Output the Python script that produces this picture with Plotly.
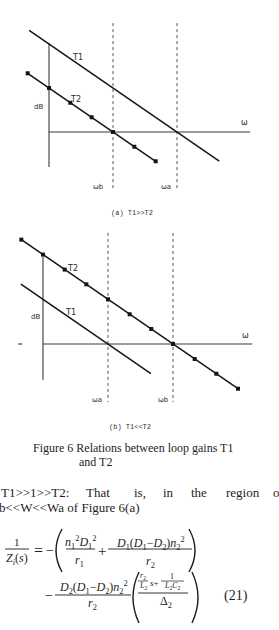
import plotly.graph_objects as go

W, H = 279, 630

# ---------------- data (log-frequency in decades, gain in dB) ----------------
# (a) T1 >> T2
a_t1_logw = [-0.31, 2.66]
a_t1_db = [46.2, -13.2]
a_t2_logw = [-1/3, 0, 1/3, 2/3, 1, 4/3, 5/3]
a_t2_db = [26.7, 20, 13.3, 6.7, 0, -6.7, -13.3]
a_wb, a_wa = 1.0, 2.0
a_vaxis_db = [40.5, -15.9]
a_haxis_logw = [0, 3.14]
a_guide_db = [49.5, -25.5]

# (b) T1 << T2
b_t2_logw = [-1/3, 0, 1/3, 2/3, 1, 4/3, 5/3, 2, 7/3, 8/3, 3]
b_t2_db = [46.7, 40, 33.3, 26.7, 20, 13.3, 6.7, 0, -6.7, -13.3, -20]
b_t1_logw = [-0.34, 1.66]
b_t1_db = [26.8, -13.2]
b_wa, b_wb = 1.0, 2.0
b_vaxis_db = [38.9, -16.1]
b_haxis_logw = [0, 3.22]
b_guide_db = [49.7, -26.0]

LINE = "#141414"
AXC = "#3a3a3a"
DOT = "#555555"
SANS = "DejaVu Sans"
SERIF = "Liberation Serif"

fig = go.Figure()

def add_panel(xa, ya, t1x, t1y, t2x, t2y, g1, g2, vax, hax, gdb):
    fig.add_trace(go.Scatter(x=[0, 0], y=vax, mode="lines", line=dict(color=AXC, width=1.1),
                             xaxis=xa, yaxis=ya, hoverinfo="skip"))
    fig.add_trace(go.Scatter(x=hax, y=[0, 0], mode="lines", line=dict(color=AXC, width=1.1),
                             xaxis=xa, yaxis=ya, hoverinfo="skip"))
    for g in (g1, g2):
        fig.add_trace(go.Scatter(x=[g, g], y=gdb, mode="lines",
                                 line=dict(color=DOT, width=1, dash="dot"),
                                 xaxis=xa, yaxis=ya, hoverinfo="skip"))
    fig.add_trace(go.Scatter(x=t1x, y=t1y, mode="lines", line=dict(color=LINE, width=1.5),
                             xaxis=xa, yaxis=ya))
    fig.add_trace(go.Scatter(x=t2x, y=t2y, mode="lines+markers", line=dict(color=LINE, width=1.5),
                             marker=dict(symbol="square", size=4, color=LINE),
                             xaxis=xa, yaxis=ya))

add_panel("x", "y", a_t1_logw, a_t1_db, a_t2_logw, a_t2_db, a_wb, a_wa,
          a_vaxis_db, a_haxis_logw, a_guide_db)
add_panel("x2", "y2", b_t1_logw, b_t1_db, b_t2_logw, b_t2_db, b_wa, b_wb,
          b_vaxis_db, b_haxis_logw, b_guide_db)
fig.add_trace(go.Scatter(x=[-0.38, -0.32], y=[0, 0], mode="lines", line=dict(color=AXC, width=1.2),
                         xaxis="x2", yaxis="y2", hoverinfo="skip"))

ann = []

def lab(s, x, y, xr, yr, size=8):
    ann.append(dict(text=s, x=x, y=y, xref=xr, yref=yr, showarrow=False,
                    font=dict(family=SANS, size=size, color="#2a2a2a")))

lab("T1", 0.44, 34, "x", "y")
lab("T2", 0.42, 15, "x", "y")
lab("dB", -0.17, 11.4, "x", "y", 7)
lab("ω", 3.05, 4.1, "x", "y")
lab("ωb", 0.78, -25, "x", "y", 7)
lab("ωa", 1.83, -25, "x", "y", 7)
lab("T2", 0.45, 34, "x2", "y2")
lab("T1", 0.42, 14.3, "x2", "y2")
lab("dB", -0.12, 12, "x2", "y2", 7)
lab("ω", 3.12, 4, "x2", "y2")
lab("ωa", 0.83, -25, "x2", "y2", 7)
lab("ωb", 1.85, -25, "x2", "y2", 7)

def P(px, py):
    return px / W, 1 - py / H

def txt(s, px, py, size=13, anchor="center", family=SERIF, color="#1e1e1e"):
    x, y = P(px, py)
    ann.append(dict(text=s, x=x, y=y, xref="paper", yref="paper", showarrow=False,
                    xanchor=anchor, yanchor="middle", borderpad=0,
                    font=dict(size=size, family=family, color=color)))

txt("(a) T1>>T2", 132, 213, size=7, family="Liberation Mono", color="#333")
txt("(b) T1<<T2", 130, 427, size=7, family="Liberation Mono", color="#333")
txt("Figure 6 Relations between loop gains T1", 133, 448, size=12)
txt("and T2", 78, 462, size=12, anchor="left")

for w, px in [("T1>>1>>T2:", 0), ("That", 85), ("is,", 133), ("in", 162),
              ("the", 190), ("region", 225), ("o", 272)]:
    txt(w, px, 492, size=13, anchor="left")
txt("b<<W<<Wa of Figure 6(a)", -2, 507, size=13, anchor="left")

shapes = []

def bar(x0, x1, py, w=0.9):
    a = P(x0, py); b = P(x1, py)
    shapes.append(dict(type="line", xref="paper", yref="paper", x0=a[0], y0=a[1], x1=b[0], y1=b[1],
                       line=dict(color="#1e1e1e", width=w)))

def paren(xr, xl, yt, yb):
    ym = (yt + yb) / 2
    cx = 2 * xl - xr
    p0 = P(xr, yt); c = P(cx, ym); p2 = P(xr, yb)
    shapes.append(dict(type="path", xref="paper", yref="paper",
                       path=f"M {p0[0]},{p0[1]} Q {c[0]},{c[1]} {p2[0]},{p2[1]}",
                       line=dict(color="#1e1e1e", width=1.4)))

# equation line 1
txt("1", 17, 542, size=11)
bar(5, 29, 549)
txt("<i>Z<sub>i</sub></i>(<i>s</i>)", 17, 559, size=12)
txt("=", 39, 550, size=16)
txt("−", 50, 550, size=14)
paren(62, 56, 529, 572)
txt("<i>n</i><sub>1</sub><sup>2</sup><i>D</i><sub>1</sub><sup>2</sup>", 80, 542, size=12)
bar(66, 95, 549)
txt("<i>r</i><sub>1</sub>", 79, 561, size=12)
txt("+", 102, 551, size=15)
txt("<i>D</i><sub>1</sub>(<i>D</i><sub>1</sub>−<i>D</i><sub>2</sub>)<i>n</i><sub>2</sub><sup>2</sup>", 150, 543, size=12)
bar(108, 192, 549)
txt("<i>r</i><sub>2</sub>", 150, 562, size=12)
paren(189, 195, 529, 572)

# equation line 2
txt("−", 49, 595, size=14)
txt("<i>D</i><sub>2</sub>(<i>D</i><sub>1</sub>−<i>D</i><sub>2</sub>)<i>n</i><sub>2</sub><sup>2</sup>", 93, 587, size=12)
bar(55, 131, 595)
txt("<i>r</i><sub>2</sub>", 92, 604, size=12)
paren(139, 133, 572, 623)
txt("<i>r</i><sub>2</sub>", 143, 576, size=8)
bar(138, 148, 581, 0.7)
txt("<i>L</i><sub>2</sub>", 143, 586, size=8)
txt("<i>s</i>+", 154, 583, size=9)
txt("1", 172, 576, size=8)
bar(161, 184, 581, 0.7)
txt("<i>L</i><sub>2</sub><i>C</i><sub>2</sub>", 172, 586, size=8)
bar(138, 188, 593)
txt("Δ<sub>2</sub>", 166, 602, size=12)
paren(192, 198, 572, 623)
txt("(21)", 236, 596, size=14)

ax_common = dict(visible=False, showgrid=False, zeroline=False, fixedrange=True)
fig.update_layout(
    width=W, height=H, margin=dict(l=0, r=0, t=0, b=0),
    paper_bgcolor="white", plot_bgcolor="white", showlegend=False,
    xaxis=dict(domain=[0, 1], range=[-49/64, 230/64], **ax_common),
    yaxis=dict(domain=[1 - 210/630, 1], range=[-35.45, 60], **ax_common),
    xaxis2=dict(domain=[0, 1], range=[-43/65, 236/65], anchor="y2", **ax_common),
    yaxis2=dict(domain=[1 - 420/630, 1 - 220/630], range=[-34.0, 55.48], anchor="x2", **ax_common),
    annotations=ann, shapes=shapes,
)

fig.write_html("out.html")
